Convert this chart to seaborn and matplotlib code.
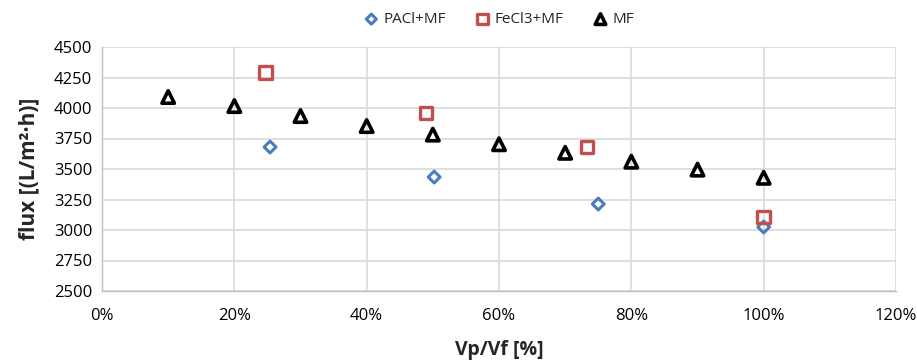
import matplotlib
matplotlib.use("Agg")
import matplotlib.pyplot as plt
import seaborn as sns
import pandas as pd
from matplotlib.ticker import FuncFormatter, MultipleLocator

# Data
pacl_x = [25.4, 50.2, 75.0, 100.0]
pacl_y = [3680, 3434, 3213, 3025]
fecl_x = [24.7, 49.0, 73.3, 100.0]
fecl_y = [4290, 3959, 3678, 3105]
mf_x = [10, 20, 30, 40, 50, 60, 70, 80, 90, 100]
mf_y = [4090, 4016, 3934, 3852, 3782, 3703, 3633, 3560, 3495, 3428]

series_names = ["PACl+MF", "FeCl3+MF", "MF"]

sns.set_theme(style="white")
plt.rcParams['font.family'] = ['Open Sans', 'DejaVu Sans']

fig = plt.figure(figsize=(9.17, 3.62), dpi=100)
ax = fig.add_axes([102/917, 1-291/362, (896-102)/917, (291-47)/362])

specs = [
    (pacl_x, pacl_y, series_names[0], "D", "#4A7EBB", 36, 2.2),
    (fecl_x, fecl_y, series_names[1], "s", "#C0504D", 80, 2.4),
    (mf_x, mf_y, series_names[2], "^", "#000000", 80, 2.6),
]
for xs, ys, name, mk, col, sz, lw in specs:
    df = pd.DataFrame({"x": xs, "y": ys})
    sns.scatterplot(data=df, x="x", y="y", ax=ax, marker=mk, s=sz,
                    facecolor="none", edgecolor=col, linewidth=lw,
                    label=name, zorder=3)

ax.set_xlim(0, 120)
ax.set_ylim(2500, 4500)
ax.xaxis.set_major_locator(MultipleLocator(20))
ax.yaxis.set_major_locator(MultipleLocator(250))
ax.xaxis.set_major_formatter(FuncFormatter(lambda v, p: f"{int(round(v))}%"))
ax.grid(True, color="#D9D9D9", linewidth=1.2)
ax.set_axisbelow(True)
for s in ["top", "right"]:
    ax.spines[s].set_visible(False)
for s in ["left", "bottom"]:
    ax.spines[s].set_color("#BFBFBF")
    ax.spines[s].set_linewidth(1)
ax.tick_params(axis="both", labelsize=12, length=4, width=1, color="#BFBFBF", labelcolor="black")
ax.tick_params(axis="x", pad=8)
ax.tick_params(axis="y", pad=3)

ax.set_xlabel("Vp/Vf [%]", fontsize=14, fontweight="bold", labelpad=12)
ax.set_ylabel("flux [(L/m²·h)]", fontsize=15, fontweight="bold", labelpad=10)

leg = ax.legend(loc="lower center", bbox_to_anchor=(0.5, 1.025), ncol=3, frameon=False,
                fontsize=11, handletextpad=0.3, columnspacing=1.9, markerscale=0.85,
                handlelength=1.0)

fig.savefig("out.png", dpi=100)
